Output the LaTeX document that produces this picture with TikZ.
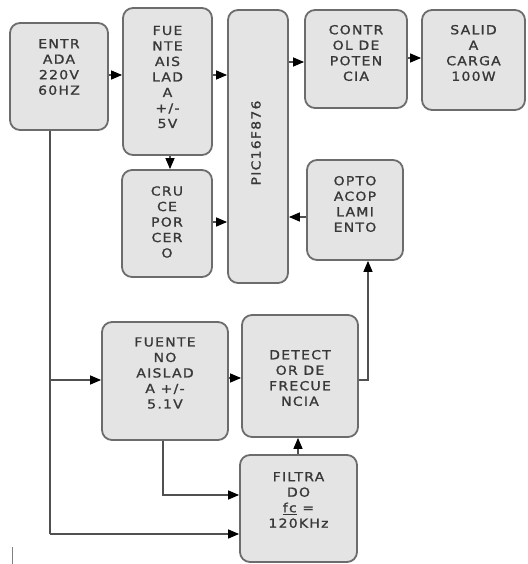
\documentclass[tikz,border=0pt]{standalone}
\usepackage{fontspec}
\usetikzlibrary{arrows.meta,calc}
\newfontfamily\boxfont[FakeStretch=1.12,LetterSpace=10,FakeBold=1.2]{DejaVu Sans}
\definecolor{boxfill}{HTML}{E4E4E4}
\definecolor{boxline}{HTML}{6C6C6C}
\definecolor{txtcol}{HTML}{383838}
\definecolor{wirecol}{HTML}{505050}
\tikzset{
  blk/.style={draw=boxline, fill=boxfill, line width=1.8pt, rounded corners=10pt, inner sep=0pt},
  lbl/.style={text=txtcol, align=center, font=\boxfont\fontsize{12.5}{15.5}\selectfont, inner sep=0pt},
  wire/.style={draw=wirecol, line width=1.4pt, -{Triangle[length=11pt,width=9pt,color=black]}},
  plainwire/.style={draw=wirecol, line width=1.4pt},
}
\begin{document}
\begin{tikzpicture}[x=1pt,y=-1pt]
\useasboundingbox (0,0) rectangle (527,564);
% boxes: center (x,y), size
\node[blk, minimum width=98pt, minimum height=107pt] (entrada) at (59,76.5) {};
\node[lbl] (entradaT) at (59,67) {ENTR\\ADA\\220V\\60HZ};
\node[blk, minimum width=89pt, minimum height=147pt] (fa) at (167.5,81.5) {};
\node[lbl] (faT) at (167.5,77) {FUE\\NTE\\AIS\\LAD\\A\\+/-\\5V};
\node[blk, minimum width=90pt, minimum height=107pt] (cruce) at (167,223.5) {};
\node[lbl] (cruceT) at (167,222) {CRU\\CE\\POR\\CER\\O};
\node[blk, minimum width=60pt, minimum height=273pt] (pic) at (258,146.5) {};
\node[lbl, rotate=90] (picT) at (256,143) {PIC16F876};
\node[blk, minimum width=102pt, minimum height=98pt] (control) at (356,59) {};
\node[lbl] (controlT) at (356,53) {CONTR\\OL DE\\POTEN\\CIA};
\node[blk, minimum width=103pt, minimum height=100pt] (salida) at (473.5,60) {};
\node[lbl] (salidaT) at (473.5,53) {SALID\\A\\CARGA\\100W};
\node[blk, minimum width=96pt, minimum height=100pt] (opto) at (355,210) {};
\node[lbl] (optoT) at (355,204) {OPTO\\ACOP\\LAMI\\ENTO};
\node[blk, minimum width=126pt, minimum height=118pt] (fna) at (165,381) {};
\node[lbl] (fnaT) at (165,373) {FUENTE\\NO\\AISLAD\\A +/-\\5.1V};
\node[blk, minimum width=116pt, minimum height=122pt] (det) at (300,376) {};
\node[lbl] (detT) at (300,378) {DETECT\\OR DE\\FRECUE\\NCIA};
\node[blk, minimum width=117pt, minimum height=107pt] (filt) at (298.5,508.5) {};
\node[lbl] (filtT) at (298.5,500) {FILTRA\\DO\\\underline{fc} =\\120KHz};
% helper coordinates
\coordinate (eDown) at (50,534);
\coordinate (eBranch) at (50,380);
\coordinate (fnaDown) at (163,495);
\coordinate (detOut) at (368,380);
% connectors
\draw[wire] (entrada.east |- 0,75) -- (fa.west |- 0,75);
\draw[wire] (fa.east |- 0,75) -- (pic.west |- 0,75);
\draw[wire] (fa.south -| 170,0) -- (cruce.north -| 170,0);
\draw[wire] (cruce.east |- 0,222) -- (pic.west |- 0,222);
\draw[wire] (pic.east |- 0,62) -- (control.west |- 0,62);
\draw[wire] (control.east |- 0,58) -- (salida.west |- 0,58);
\draw[wire] (opto.west |- 0,217) -- (pic.east |- 0,217);
\draw[wire] (det.east |- detOut) -- (detOut) -- (opto.south -| detOut);
\draw[plainwire] (entrada.south -| eDown) -- (eDown);
\draw[wire] (eDown) -- (filt.west |- eDown);
\draw[wire] (eBranch) -- (fna.west |- eBranch);
\draw[wire] (fna.east |- 0,378) -- (det.west |- 0,378);
\draw[wire] (fna.south -| fnaDown) -- (fnaDown) -- (filt.west |- fnaDown);
\draw[wire] (filt.north -| 298,0) -- (det.south -| 298,0);
% stray mark
\coordinate (markTop) at (12,547);
\coordinate (markBot) at (12,564);
\draw[draw=gray, line width=0.8pt] (markTop) -- (markBot);
\end{tikzpicture}
\end{document}
